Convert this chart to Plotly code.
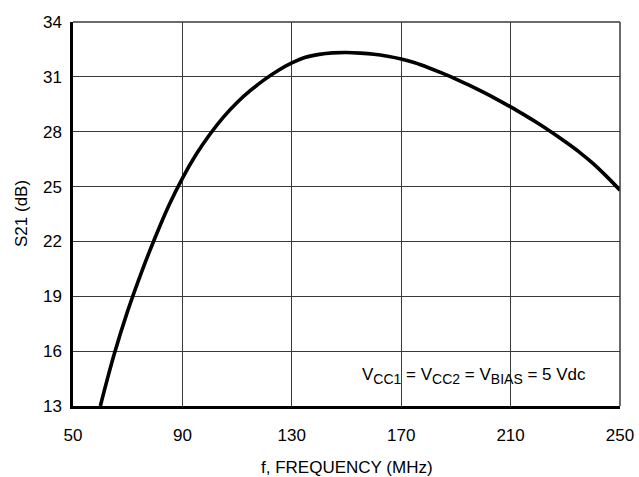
import plotly.graph_objects as go

# S21 gain versus frequency, read every 5 MHz
freq_mhz = [60, 65, 70, 75, 80, 85, 90, 95, 100, 105, 110, 115, 120, 125, 130,
            135, 140, 145, 150, 155, 160, 165, 170, 175, 180, 185, 190, 195,
            200, 205, 210, 215, 220, 225, 230, 235, 240, 245, 250]
s21_db = [13.0, 15.8, 18.2, 20.3, 22.2, 23.95, 25.45, 26.75, 27.85, 28.8,
          29.6, 30.27, 30.85, 31.35, 31.76, 32.07, 32.23, 32.31, 32.33, 32.3,
          32.24, 32.13, 31.98, 31.77, 31.5, 31.2, 30.88, 30.53, 30.16, 29.77,
          29.36, 28.92, 28.46, 27.97, 27.45, 26.9, 26.28, 25.57, 24.8]

x_ticks = [50, 90, 130, 170, 210, 250]
y_ticks = [13, 16, 19, 22, 25, 28, 31, 34]

FONT = "Liberation Sans, Arial, sans-serif"
TXT = dict(family=FONT, size=17, color="black")

fig = go.Figure()
fig.add_trace(go.Scatter(
    x=freq_mhz, y=s21_db, mode="lines",
    line=dict(color="black", width=3.6, shape="spline", smoothing=1.0),
    hoverinfo="skip", showlegend=False,
))

axis_common = dict(
    showgrid=True, gridcolor="#3a3a3a", gridwidth=1,
    showline=True, linecolor="black", linewidth=2.5,
    ticks="", zeroline=False, automargin=False,
    tickfont=TXT,
)

fig.update_xaxes(range=[50, 250], tickvals=x_ticks,
                 ticktext=[str(v) for v in x_ticks],
                 ticklabelstandoff=12, **axis_common)
fig.update_yaxes(range=[13, 34], tickvals=y_ticks,
                 ticktext=[str(v) for v in y_ticks],
                 ticklabelstandoff=5, **axis_common)

# thin top and right frame edges
fig.add_shape(type="line", xref="paper", yref="paper", x0=0, x1=1, y0=1, y1=1,
              line=dict(color="#3a3a3a", width=1.5))
fig.add_shape(type="line", xref="paper", yref="paper", x0=1, x1=1, y0=0, y1=1,
              line=dict(color="#3a3a3a", width=1.5))

# axis titles
fig.add_annotation(xref="paper", yref="paper", x=0.5, y=0, yanchor="middle",
                   yshift=-61, text="f, FREQUENCY (MHz)", showarrow=False,
                   font=TXT)
fig.add_annotation(xref="paper", yref="paper", x=0, y=0.5, xanchor="center",
                   xshift=-52, text="S21 (dB)", textangle=-90,
                   showarrow=False, font=TXT)

sub = '<sub><span style="font-size:14px">{}</span></sub>'
fig.add_annotation(
    xref="x", yref="y", x=238.3, y=14.65, xanchor="right", yanchor="middle",
    text=("V" + sub.format("CC1") + " = V" + sub.format("CC2") + " = V"
          + sub.format("BIAS") + " = 5 Vdc"),
    showarrow=False, font=TXT,
)

fig.update_layout(
    width=639, height=477,
    margin=dict(l=73, r=19, t=22, b=71),
    paper_bgcolor="white", plot_bgcolor="white",
    font=TXT,
)

fig.write_html("out.html")
